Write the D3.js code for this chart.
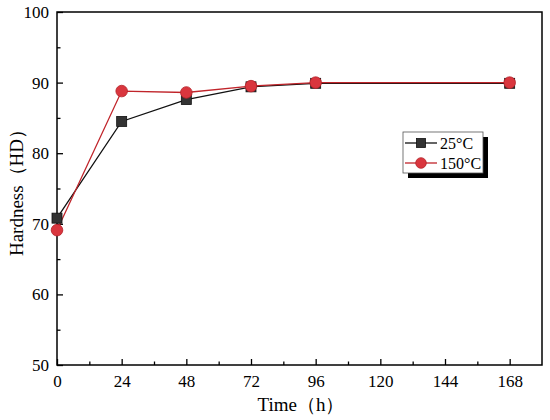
<!DOCTYPE html>
<html>
<head>
<meta charset="utf-8">
<script src="https://cdn.jsdelivr.net/npm/d3@7"></script>
<style>
  body { margin: 0; background: #fff; }
  text { font-family: "Liberation Serif", "Times New Roman", serif; }
</style>
</head>
<body>
<script>
var times = [0, 24, 48, 72, 96, 168]
var hard25 = [70.8, 84.5, 87.6, 89.4, 89.9, 89.9]
var hard150 = [69.1, 88.8, 88.6, 89.5, 90.0, 90.0]
var xTicks = [0, 24, 48, 72, 96, 120, 144, 168]
var yTicks = [50, 60, 70, 80, 90, 100]
var seriesNames = ["25°C", "150°C"]

var width = 550,
    height = 420;

var margin = {left: 57, top: 12, right: 8, bottom: 55}
var serif = "Liberation Serif, Times New Roman, serif"

var svg = d3.select("body")
    .append("svg")
    .attr("width", width)
    .attr("height", height);

var x = d3.scaleLinear()
    .domain([0, 180])
    .range([margin.left, width - margin.right]);

var y = d3.scaleLinear()
    .domain([50, 100])
    .range([height - margin.bottom, margin.top]);

// frame
svg.append("rect")
    .attr("x", x(0))
    .attr("y", y(100))
    .attr("width", x(180) - x(0))
    .attr("height", y(50) - y(100))
    .attr("fill", "none")
    .attr("stroke", "#000")
    .attr("stroke-width", 1.5);

// minor ticks (inward)
var xMinor = d3.range(12, 180, 24)
var yMinor = d3.range(55, 100, 10)

svg.append("g")
    .attr("transform", "translate(0," + y(50) + ")")
    .attr("font-family", serif)
    .call(d3.axisBottom(x).tickValues(xTicks).tickSize(-6).tickPadding(10).tickFormat(d3.format("d")))
    .call(g => g.select(".domain").remove())
    .call(g => g.selectAll("text").attr("font-size", 17).attr("fill", "#000"))
    .call(g => g.selectAll("line").attr("stroke-width", 1.3));

svg.append("g")
    .attr("transform", "translate(0," + y(50) + ")")
    .call(d3.axisBottom(x).tickValues(xMinor).tickSize(-3.5).tickFormat(""))
    .call(g => g.select(".domain").remove())
    .call(g => g.selectAll("line").attr("stroke-width", 1.3));

svg.append("g")
    .attr("transform", "translate(" + x(0) + ",0)")
    .attr("font-family", serif)
    .call(d3.axisLeft(y).tickValues(yTicks).tickSize(-6).tickPadding(8).tickFormat(d3.format("d")))
    .call(g => g.select(".domain").remove())
    .call(g => g.selectAll("text").attr("font-size", 17).attr("fill", "#000"))
    .call(g => g.selectAll("line").attr("stroke-width", 1.3));

svg.append("g")
    .attr("transform", "translate(" + x(0) + ",0)")
    .call(d3.axisLeft(y).tickValues(yMinor).tickSize(-3.5).tickFormat(""))
    .call(g => g.select(".domain").remove())
    .call(g => g.selectAll("line").attr("stroke-width", 1.3));

// axis titles
svg.append("text")
    .attr("x", 301)
    .attr("y", 411)
    .attr("text-anchor", "middle")
    .attr("font-size", 19)
    .text("Time（h）");

svg.append("text")
    .attr("transform", "translate(23," + 188 + ") rotate(-90)")
    .attr("text-anchor", "middle")
    .attr("font-size", 19)
    .text("Hardness（HD）");

var line = d3.line()
    .x((d, i) => x(times[i]))
    .y(d => y(d));

var black = "#111", blackFill = "#333"
var red = "#c0242a", redFill = "#d9363e"

svg.append("path")
    .datum(hard25)
    .attr("d", line)
    .attr("fill", "none")
    .attr("stroke", black)
    .attr("stroke-width", 1.3);

svg.append("path")
    .datum(hard150)
    .attr("d", line)
    .attr("fill", "none")
    .attr("stroke", red)
    .attr("stroke-width", 1.3);

var sq = 10
svg.selectAll("rect.sq")
    .data(hard25)
    .enter()
    .append("rect")
    .attr("class", "sq")
    .attr("x", (d, i) => x(times[i]) - sq / 2)
    .attr("y", d => y(d) - sq / 2)
    .attr("width", sq)
    .attr("height", sq)
    .attr("fill", blackFill)
    .attr("stroke", black)
    .attr("stroke-width", 0.8);

svg.selectAll("circle.ci")
    .data(hard150)
    .enter()
    .append("circle")
    .attr("class", "ci")
    .attr("cx", (d, i) => x(times[i]))
    .attr("cy", d => y(d))
    .attr("r", 5.8)
    .attr("fill", redFill)
    .attr("stroke", "#b52228")
    .attr("stroke-width", 0.8);

// legend
var lg = svg.append("g").attr("transform", "translate(403,132)")
lg.append("rect")
    .attr("x", 5).attr("y", 5)
    .attr("width", 80).attr("height", 41)
    .attr("fill", "#000");
lg.append("rect")
    .attr("x", 0).attr("y", 0)
    .attr("width", 80).attr("height", 41)
    .attr("fill", "#fff")
    .attr("stroke", "#555")
    .attr("stroke-width", 0.8);

var rows = [
    {name: seriesNames[0], color: black, fill: blackFill, shape: "sq", dy: 11},
    {name: seriesNames[1], color: red, fill: redFill, shape: "ci", dy: 31}
]
rows.forEach(function(r){
    lg.append("line")
        .attr("x1", 2).attr("x2", 34)
        .attr("y1", r.dy).attr("y2", r.dy)
        .attr("stroke", r.color)
        .attr("stroke-width", 1.3);
    if (r.shape === "sq") {
        lg.append("rect")
            .attr("x", 18 - 4.5).attr("y", r.dy - 4.5)
            .attr("width", 9).attr("height", 9)
            .attr("fill", r.fill).attr("stroke", r.color).attr("stroke-width", 0.8);
    } else {
        lg.append("circle")
            .attr("cx", 18).attr("cy", r.dy).attr("r", 5.3)
            .attr("fill", r.fill).attr("stroke", "#b52228").attr("stroke-width", 0.8);
    }
    lg.append("text")
        .attr("x", 37).attr("y", r.dy + 5.5)
        .attr("font-size", 16)
        .text(r.name);
})
</script>
</body>
</html>
